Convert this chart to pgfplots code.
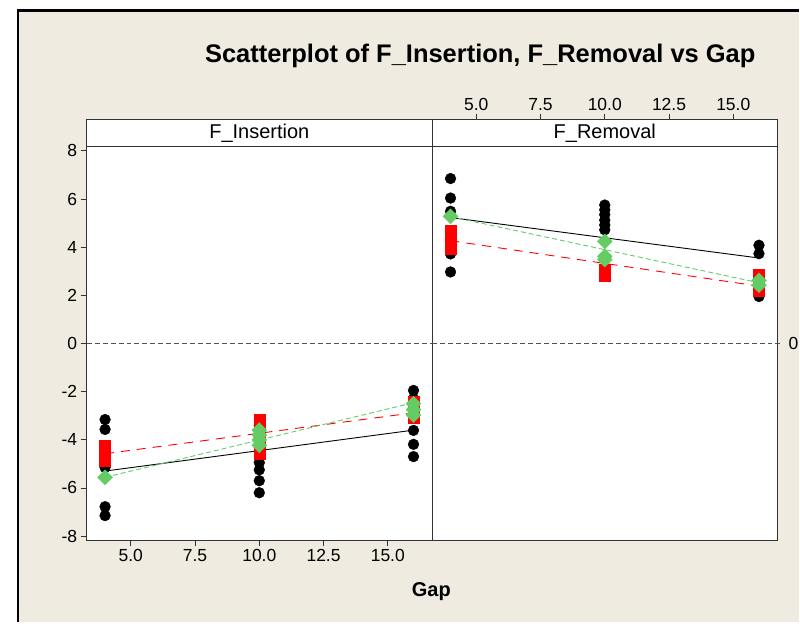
\documentclass[border=0pt]{standalone}
\usepackage{pgfplots}
\pgfplotsset{compat=1.18}
\usepackage{fontspec}
\setmainfont{Liberation Sans}
\definecolor{bg}{RGB}{239,235,225}
\definecolor{mgreen}{RGB}{100,204,100}
\definecolor{frm}{RGB}{50,50,50}
\begin{document}
\begin{tikzpicture}
\fill[white] (0pt,0pt) rectangle (800pt,623pt);
\fill[bg] (19pt,0pt) rectangle (800pt,612pt);
\draw[black,line width=2.5pt] (18.25pt,0pt) -- (18.25pt,612.25pt) -- (800pt,612.25pt);
\node[font=\fontsize{25.5}{25.5}\selectfont\bfseries, anchor=base] at (481pt,560pt) {Scatterplot of F\_Insertion, F\_Removal vs Gap};
\node[font=\fontsize{20}{20}\selectfont\bfseries, anchor=base] at (432pt,26pt) {Gap};
\pgfplotsset{
 panel/.style={scale only axis, width=346pt, height=394pt,
   xmin=3.28, xmax=16.72, ymin=-8.17, ymax=8.17,
   axis line style={frm, line width=1pt}, axis background/.style={fill=white},
   tick style={frm, line width=0.8pt}, tick align=outside, major tick length=6pt,
   ticklabel style={font=\fontsize{17.5}{17.5}\selectfont},
   /pgf/number format/assume math mode=true,
   xticklabel style={/pgf/number format/.cd, fixed, fixed zerofill, precision=1},
   xtick={5,7.5,10,12.5,15}},
 strip/.style={scale only axis, width=346pt, height=27pt,
   xmin=3.28, xmax=16.72, ymin=0, ymax=1,
   axis line style={frm, line width=1pt}, axis background/.style={fill=white},
   tick style={frm, line width=0.8pt}, tick align=outside, major tick length=6pt,
   ticklabel style={font=\fontsize{17.5}{17.5}\selectfont},
   /pgf/number format/assume math mode=true,
   xticklabel style={/pgf/number format/.cd, fixed, fixed zerofill, precision=1},
   ytick=\empty},
 sblk/.style={only marks, mark=*, mark size=5.4, black, mark options={draw=black, fill=black}},
 sred/.style={only marks, mark=square*, mark size=5.5, color=red, mark options={draw=red, fill=red}},
 sgrn/.style={only marks, mark=square*, mark size=5.3, color=mgreen, mark options={draw=mgreen, fill=mgreen, rotate=45}},
 zline/.style={no marks, color=frm!85, line width=0.8pt, dash pattern=on 5pt off 3pt},
}
% left strip
\begin{axis}[strip, at={(86.7pt,476pt)}, anchor=south west, xtick=\empty]
\node[font=\fontsize{20}{20}\selectfont] at (axis description cs:0.5,0.5) {F\_Insertion};
\end{axis}
% right strip
\begin{axis}[strip, at={(432.7pt,476pt)}, anchor=south west, xtick={5,7.5,10,12.5,15}, xtick pos=right, xticklabel pos=right]
\node[font=\fontsize{20}{20}\selectfont] at (axis description cs:0.5,0.5) {F\_Removal};
\end{axis}
% left panel
\begin{axis}[panel, at={(86.7pt,82pt)}, anchor=south west,
  ytick={-8,-6,-4,-2,0,2,4,6,8}, ytick pos=left, xtick pos=left]
\addplot[zline] coordinates {(3.28,0) (16.72,0)};
\addplot[sblk] coordinates {(4,-3.16) (4,-3.57) (4,-4.6) (4,-5.15) (4,-6.78) (4,-7.15)
 (10,-3.4) (10,-3.9) (10,-4.95) (10,-5.25) (10,-5.7) (10,-6.2)
 (16,-1.95) (16,-2.3) (16,-2.9) (16,-3.61) (16,-4.19) (16,-4.7)};
\addplot[sred] coordinates {(4,-4.25) (4,-4.45) (4,-4.65) (4,-4.86)
 (10,-3.18) (10,-3.45) (10,-3.75) (10,-4.05) (10,-4.3) (10,-4.58)
 (16,-2.4) (16,-2.65) (16,-2.9) (16,-3.1)};
\addplot[sgrn] coordinates {(4,-5.56)
 (10,-3.6) (10,-3.8) (10,-4.0) (10,-4.23)
 (16,-2.5) (16,-2.75) (16,-2.98)};
\addplot[no marks, color=black, line width=0.9pt] coordinates {(4,-5.3) (16,-3.6)};
\addplot[no marks, color=red, line width=0.9pt, dash pattern=on 9pt off 7pt] coordinates {(4,-4.58) (16,-2.88)};
\addplot[no marks, color=mgreen, line width=0.9pt, dash pattern=on 5pt off 3pt] coordinates {(4,-5.56) (16,-2.46)};
\end{axis}
% right panel
\begin{axis}[panel, at={(432.7pt,82pt)}, anchor=south west, ytick=\empty, xtick=\empty, clip=false]
\addplot[zline] coordinates {(3.28,0) (16.9,0)};
\node[font=\fontsize{17.5}{17.5}\selectfont, anchor=west, inner sep=0pt] at (axis cs:17.15,0) {0};
\addplot[sblk] coordinates {(4,6.85) (4,6.04) (4,5.49) (4,3.72) (4,2.97)
 (10,5.75) (10,5.55) (10,5.35) (10,5.12) (10,4.92) (10,4.72)
 (16,4.08) (16,3.73) (16,1.95)};
\addplot[sred] coordinates {(4,4.7) (4,4.45) (4,4.2) (4,3.95)
 (10,3.05) (10,2.82)
 (16,2.84) (16,2.6) (16,2.4) (16,2.2)};
\addplot[sgrn] coordinates {(4,5.28)
 (10,4.24) (10,3.62) (10,3.48)
 (16,2.62) (16,2.42)};
\addplot[no marks, color=black, line width=0.9pt] coordinates {(4,5.23) (16,3.55)};
\addplot[no marks, color=red, line width=0.9pt, dash pattern=on 9pt off 7pt] coordinates {(4,4.27) (16,2.38)};
\addplot[no marks, color=mgreen, line width=0.9pt, dash pattern=on 5pt off 3pt] coordinates {(4,5.27) (16,2.52)};
\end{axis}
\end{tikzpicture}
\end{document}
